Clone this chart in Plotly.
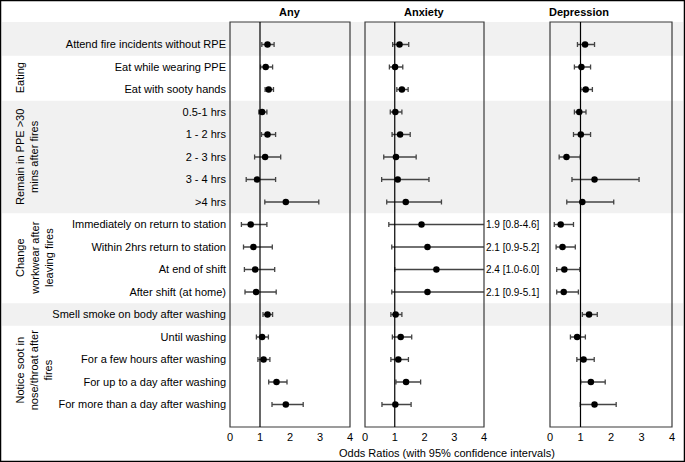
import plotly.graph_objects as go

W, H = 685, 462

rows = [
    "Attend fire incidents without RPE",
    "Eat while wearing PPE",
    "Eat with sooty hands",
    "0.5-1 hrs",
    "1 - 2 hrs",
    "2 - 3 hrs",
    "3 - 4 hrs",
    ">4 hrs",
    "Immediately on return to station",
    "Within 2hrs return to station",
    "At end of shift",
    "After shift (at home)",
    "Smell smoke on body after washing",
    "Until washing",
    "For a few hours after washing",
    "For up to a day after washing",
    "For more than a day after washing",
]

any_or = [1.25, 1.19, 1.29, 1.07, 1.25, 1.17, 0.90, 1.86, 0.69, 0.78, 0.84, 0.87, 1.25, 1.07, 1.12, 1.55, 1.86]
any_lo = [1.06, 1.02, 1.17, 0.96, 1.05, 0.82, 0.54, 1.16, 0.38, 0.45, 0.48, 0.50, 1.10, 0.88, 0.93, 1.29, 1.40]
any_hi = [1.47, 1.42, 1.45, 1.23, 1.52, 1.69, 1.52, 2.96, 1.23, 1.41, 1.49, 1.54, 1.42, 1.28, 1.33, 1.90, 2.44]

anx_or = [1.16, 1.01, 1.24, 1.02, 1.18, 1.04, 1.10, 1.37, 1.9, 2.1, 2.4, 2.1, 1.03, 1.20, 1.12, 1.38, 1.02]
anx_lo = [0.93, 0.82, 1.07, 0.85, 0.91, 0.63, 0.56, 0.73, 0.8, 0.9, 1.0, 0.9, 0.87, 0.92, 0.87, 1.04, 0.57]
anx_hi = [1.47, 1.27, 1.45, 1.24, 1.52, 1.72, 2.15, 2.57, 4.6, 5.2, 6.0, 5.1, 1.24, 1.57, 1.46, 1.87, 1.55]

dep_or = [1.15, 1.03, 1.17, 0.96, 1.01, 0.54, 1.46, 1.06, 0.35, 0.41, 0.47, 0.45, 1.28, 0.89, 1.10, 1.34, 1.46]
dep_lo = [0.90, 0.80, 1.01, 0.80, 0.77, 0.30, 0.72, 0.55, 0.14, 0.20, 0.22, 0.22, 1.06, 0.67, 0.88, 1.01, 0.99]
dep_hi = [1.46, 1.33, 1.39, 1.18, 1.33, 0.99, 2.92, 2.09, 0.77, 0.83, 0.98, 0.93, 1.55, 1.16, 1.45, 1.81, 2.17]

panel_titles = ["Any", "Anxiety", "Depression"]
x_ticks = [0, 1, 2, 3, 4]

# group labels: (text, first row, last row)
groups = [
    ("Eating", 2, 3),
    ("Remain in PPE >30<br>mins after fires", 4, 8),
    ("Change<br>workwear after<br>leaving fires", 9, 12),
    ("Notice soot in<br>nose/throat after<br>fires", 14, 17),
]
shaded = [(1, 1), (4, 8), (13, 13)]

FONT = "Liberation Sans, Arial, sans-serif"
ypos = list(range(1, len(rows) + 1))

domains = [(230, 350), (365, 484), (550, 672)]
series = [(any_or, any_lo, any_hi), (anx_or, anx_lo, anx_hi), (dep_or, dep_lo, dep_hi)]

fig = go.Figure()
for i, (vals, lo, hi) in enumerate(series):
    xa = "x" if i == 0 else f"x{i + 1}"
    fig.add_trace(go.Scatter(
        x=vals, y=ypos, xaxis=xa, yaxis="y", mode="markers",
        marker=dict(color="black", size=6.5),
        error_x=dict(type="data", symmetric=False,
                     array=[h - v for h, v in zip(hi, vals)],
                     arrayminus=[v - l for v, l in zip(vals, lo)],
                     color="#444", thickness=1.3, width=2.5),
        showlegend=False, hoverinfo="skip",
    ))

axis_common = dict(range=[0, 4], tickvals=x_ticks, ticks="", showgrid=False, zeroline=False,
                   showline=False, ticklabelstandoff=2,
                   tickfont=dict(size=11, color="black", family=FONT), fixedrange=True)
layout = {}
for i, (a, b) in enumerate(domains):
    key = "xaxis" if i == 0 else f"xaxis{i + 1}"
    layout[key] = dict(domain=[a / W, b / W], anchor="y", **axis_common)

fig.update_layout(template="none")
fig.update_layout(**layout)
fig.update_layout(
    width=W, height=H,
    margin=dict(l=0, r=0, t=22, b=35),
    paper_bgcolor="white", plot_bgcolor="rgba(0,0,0,0)",
    font=dict(family=FONT, size=11, color="black"),
    yaxis=dict(range=[len(rows) + 1, 0], tickvals=ypos, ticktext=rows, ticks="",
               showgrid=False, zeroline=False, showline=False, automargin=False,
               ticklabelstandoff=3, tickfont=dict(size=11, color="black"), fixedrange=True),
)

shapes = []
plot_h = H - 22 - 35
for r0, r1 in shaded:
    shapes.append(dict(type="rect", xref="paper", yref="y", x0=2 / W, x1=1 - 2 / W,
                       y0=r0 - 0.5 if r0 > 1 else 0, y1=r1 + 0.5,
                       fillcolor="#f1f1f1", line=dict(width=0), layer="below"))
for i in range(3):
    xa = "x" if i == 0 else f"x{i + 1}"
    shapes.append(dict(type="rect", xref=f"{xa} domain", yref="y domain", x0=0, x1=1, y0=0, y1=1,
                       line=dict(color="#3a3a3a", width=1.2), fillcolor="rgba(0,0,0,0)"))
    shapes.append(dict(type="line", xref=xa, yref="y domain", x0=1, x1=1, y0=0, y1=1,
                       line=dict(color="black", width=1.2)))
# outer frame
shapes.append(dict(type="rect", xref="paper", yref="paper", x0=0.5 / W, x1=1 - 0.5 / W,
                   y0=-(35 - 0.5) / plot_h, y1=1 + (22 - 0.5) / plot_h,
                   line=dict(color="black", width=1.5), fillcolor="rgba(0,0,0,0)"))

annotations = []
for (a, b), t in zip(domains, panel_titles):
    annotations.append(dict(text=f"<b>{t}</b>", xref="paper", yref="paper", x=(a + b) / 2 / W,
                            y=1 + 10 / plot_h, yanchor="middle", showarrow=False, font=dict(size=11)))
for text, r0, r1 in groups:
    annotations.append(dict(text=text, xref="paper", yref="y", x=12 / W, y=(r0 + r1) / 2,
                            xanchor="left", yanchor="middle", textangle=-90, showarrow=False,
                            font=dict(size=11)))
# clipped anxiety intervals: print the values beside the panel
for v, l, h, y in zip(anx_or, anx_lo, anx_hi, ypos):
    if h > 4:
        annotations.append(dict(text=f"{v:.1f} [{l:.1f}-{h:.1f}]", xref="paper", yref="y",
                                x=484 / W, y=y, xanchor="left", yanchor="middle",
                                showarrow=False, font=dict(size=10)))
annotations.append(dict(text="Odds Ratios (with 95% confidence intervals)", xref="paper", yref="paper",
                        x=447 / W, y=-26 / plot_h, yanchor="middle", showarrow=False, font=dict(size=11)))

fig.update_layout(shapes=shapes, annotations=annotations)
fig.write_html("out.html", config={"displayModeBar": False},
               post_script="document.body.style.margin='0';document.body.style.overflow='hidden';")
